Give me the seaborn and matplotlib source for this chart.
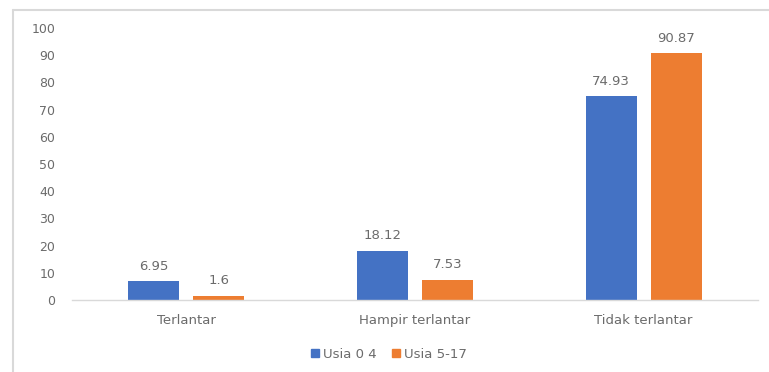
import matplotlib
matplotlib.use("Agg")
import matplotlib.pyplot as plt
import seaborn as sns
import pandas as pd
from matplotlib.lines import Line2D

categories = ["Terlantar", "Hampir terlantar", "Tidak terlantar"]
series_names = ["Usia 0 4", "Usia 5-17"]
usia_0_4 = [6.95, 18.12, 74.93]
usia_5_17 = [1.6, 7.53, 90.87]
value_labels_0_4 = ["6.95", "18.12", "74.93"]
value_labels_5_17 = ["1.6", "7.53", "90.87"]
y_ticks = [0, 10, 20, 30, 40, 50, 60, 70, 80, 90, 100]

df = pd.DataFrame({
    "Kategori": categories * 2,
    "Kelompok": [series_names[0]] * 3 + [series_names[1]] * 3,
    "Nilai": usia_0_4 + usia_5_17,
})

sns.set_theme(style="white")
plt.rcParams["font.family"] = ["DejaVu Sans"]

text_color = "#6b6b6b"
colors = ["#4472C4", "#ED7D31"]

fig = plt.figure(figsize=(7.69, 3.72), dpi=100)
ax = fig.add_axes([72 / 769, 1 - 300 / 372, (758 - 72) / 769, (300 - 28) / 372])

sns.barplot(data=df, x="Kategori", y="Nilai", hue="Kelompok",
            palette=colors, width=0.57, gap=0.215, ax=ax,
            order=categories, hue_order=series_names, saturation=1,
            linewidth=0)

ax.set_ylim(0, 100)
ax.set_xlim(-0.5, 2.5)
ax.set_yticks(y_ticks)
ax.set_yticklabels([str(t) for t in y_ticks])
ax.tick_params(axis="y", colors=text_color, labelsize=9, length=0, pad=12)
ax.tick_params(axis="x", colors=text_color, labelsize=9.5, length=0, pad=10)
ax.set_xlabel("")
ax.set_ylabel("")
for s in ["top", "right", "left"]:
    ax.spines[s].set_visible(False)
ax.spines["bottom"].set_color("#d9d9d9")
ax.spines["bottom"].set_linewidth(1)

labels_all = [value_labels_0_4, value_labels_5_17]
for cont, labs in zip(ax.containers, labels_all):
    ax.bar_label(cont, labels=labs, padding=6, color=text_color, fontsize=9.5)

handles = [plt.Rectangle((0, 0), 1, 1, color=c) for c in colors]
leg = ax.legend(handles, series_names, loc="center", bbox_to_anchor=(0.462, -0.2),
                ncol=2, frameon=False, fontsize=9.5, handlelength=0.6, handleheight=0.6,
                handletextpad=0.3, columnspacing=1.2)
for t in leg.get_texts():
    t.set_color(text_color)

# outer chart frame (left and top edges)
fig.add_artist(Line2D([12.5 / 769, 12.5 / 769], [0, 1 - 10 / 372], color="#d9d9d9", lw=1.5))
fig.add_artist(Line2D([12.5 / 769, 1], [1 - 10 / 372, 1 - 10 / 372], color="#d9d9d9", lw=1.5))

fig.savefig("out.png", dpi=100)
